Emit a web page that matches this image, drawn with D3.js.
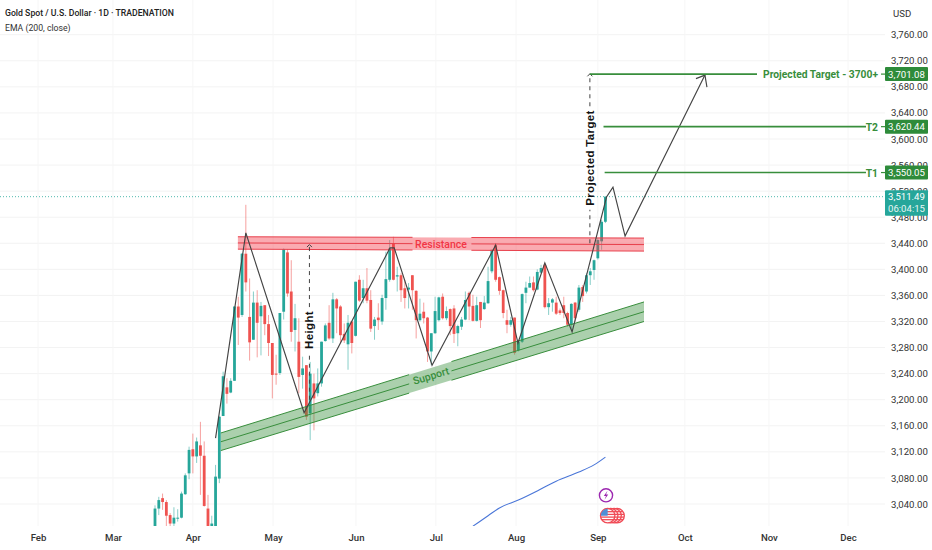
<!DOCTYPE html>
<html>
<head>
<meta charset="utf-8">
<script src="https://cdn.jsdelivr.net/npm/d3@7"></script>
<style>
  html, body { margin: 0; padding: 0; background: #fff; }
  svg { display: block; font-family: Roboto, sans-serif; }
</style>
</head>
<body>
<script>
// Daily candles
const opens = [3005,3033,3049,3043,3023,3010,3018,3019,3055,3087,3124,3113,3130,3114,3033,3005,3005,3079,3175,3219,
  3211,3229,3343,3330,3424,3327,3292,3349,3328,3345,3316,3287,3240,3241,3335,3426,3366,3307,3289,3238,
  3253,3179,3225,3210,3225,3290,3318,3294,3354,3343,3301,3285,3320,3298,3384,3356,3371,3353,3313,3326,
  3320,3356,3384,3440,3389,3391,3371,3369,3391,3367,3322,3335,3326,3274,3302,3322,3358,3325,3339,3340,
  3302,3312,3323,3364,3344,3321,3350,3339,3348,3397,3437,3388,3368,3322,3315,3326,3276,3289,3364,3372,
  3380,3369,3395,3407,3342,3349,3349,3337,3345,3333,3315,3349,3338,3373,3366,3391,3399,3417,3443,3473];
const highs = [3038,3051,3056,3046,3026,3035,3032,3059,3087,3128,3148,3142,3166,3136,3054,3022,3100,3174,3243,3233,
  3233,3343,3358,3425,3499,3386,3366,3368,3350,3345,3330,3287,3269,3333,3432,3431,3414,3347,3325,3266,
  3253,3258,3240,3248,3289,3317,3345,3364,3356,3345,3317,3330,3320,3381,3391,3384,3402,3368,3327,3348,
  3361,3427,3445,3450,3404,3394,3384,3379,3391,3368,3355,3349,3327,3302,3358,3358,3363,3343,3340,3345,
  3315,3327,3366,3366,3361,3358,3350,3359,3404,3430,3440,3389,3369,3338,3327,3326,3292,3363,3381,3389,
  3389,3400,3407,3409,3356,3356,3358,3340,3358,3335,3348,3350,3376,3376,3394,3402,3415,3448,3476,3512];
const lows = [3005,3023,3031,3005,3005,3005,3013,3018,3054,3078,3087,3103,3054,3036,3005,3005,3005,3072,3175,3194,
  3210,3229,3284,3327,3366,3260,3292,3265,3268,3299,3267,3202,3223,3238,3323,3358,3289,3274,3210,3217,
  3169,3138,3153,3205,3220,3289,3292,3287,3302,3287,3287,3246,3271,3297,3350,3348,3348,3304,3292,3307,
  3315,3338,3381,3383,3366,3350,3340,3340,3338,3294,3320,3317,3258,3253,3301,3320,3323,3322,3299,3287,
  3282,3307,3322,3322,3320,3320,3310,3338,3347,3394,3381,3361,3325,3302,3312,3269,3274,3287,3348,3372,
  3366,3368,3394,3340,3330,3335,3330,3330,3325,3312,3307,3320,3335,3350,3363,3376,3384,3415,3430,3471];
const closes = [3033,3046,3043,3022,3010,3019,3019,3056,3084,3123,3113,3136,3114,3037,3005,3010,3082,3174,3236,3209,
  3229,3343,3326,3424,3380,3288,3349,3318,3344,3316,3287,3238,3239,3333,3431,3363,3304,3325,3235,3248,
  3174,3240,3202,3225,3289,3314,3294,3354,3340,3299,3291,3318,3287,3381,3352,3371,3352,3309,3323,3322,
  3356,3385,3432,3384,3391,3368,3356,3372,3368,3322,3332,3325,3274,3302,3336,3357,3325,3336,3313,3301,
  3313,3323,3353,3343,3321,3345,3322,3349,3382,3430,3384,3367,3333,3315,3322,3272,3289,3362,3372,3379,
  3368,3396,3402,3342,3348,3354,3332,3333,3333,3315,3347,3325,3372,3359,3391,3397,3414,3445,3473,3511.49];

// EMA (200, close)
const emaIdx = [84,88,91,96,101,106,112,116,119];
const emaVals = [3006,3022,3034,3046,3060,3075,3089,3100,3112];

const priceTicks = d3.range(3040, 3761, 40);
const monthNames = ["Feb","Mar","Apr","May","Jun","Jul","Aug","Sep","Oct","Nov","Dec"];
const monthIdx = [-30.9,-11.1,10,31.2,53.1,74.2,95.4,117,140,162.2,183.1];

// drawings, as [candle index, price]
const zigzag = [[16,3141],[24,3456],[39.4,3180],[62.1,3433],[63.2,3433],[73.2,3253],[90,3437],[95.9,3287],
  [103,3410],[110.2,3304],[119.3,3511],[121,3526],[124.2,3451],[145.3,3698]];
const resistanceBand = { from: 21.9, to: 129.2, top: [3450,3448], bottom: [3431,3428] };
const supportBand = { from: 17.4, to: 129.2, top: [3149,3350], bottom: [3122,3320] };
const targets = [
  { label: "3,701.08", price: 3701.08, from: 114.9, text: "Projected Target - 3700+" },
  { label: "3,620.44", price: 3620.44, from: 118.5, text: "T2" },
  { label: "3,550.05", price: 3550.05, from: 118.8, text: "T1" }
];
const eventIdx = [122.1,121.3,120.4,119.6];

const width = 932, height = 550;
const paneBottom = 526, axisLeft = 885, targetShift = 1;
const up = "#26a69a", down = "#ef5350", lineGreen = "#388e3c", labelGreen = "#388e3c";

const x = d3.scaleLinear().domain([0, 119]).range([155, 605.4]);
const y = d3.scaleLinear().domain([3040, 3760]).range([504, 34.7]);

const svg = d3.select("body").append("svg").attr("width", width).attr("height", height);
svg.append("rect").attr("width", width).attr("height", height).attr("fill", "#fff");

svg.append("defs").append("clipPath").attr("id", "pane")
  .append("rect").attr("width", axisLeft).attr("height", paneBottom);

// grid
svg.append("g").selectAll("line").data(priceTicks).enter().append("line")
  .attr("x1", 0).attr("x2", axisLeft)
  .attr("y1", d => y(d)).attr("y2", d => y(d))
  .attr("stroke", "#f3f3f3");
svg.append("g").selectAll("line").data(monthIdx).enter().append("line")
  .attr("x1", d => x(d)).attr("x2", d => x(d))
  .attr("y1", 0).attr("y2", paneBottom)
  .attr("stroke", "#f6f6f6");

const pane = svg.append("g").attr("clip-path", "url(#pane)");

// candles
const candles = pane.append("g").selectAll("g").data(opens).enter().append("g");
candles.append("line")
  .attr("x1", (d,i) => x(i)).attr("x2", (d,i) => x(i))
  .attr("y1", (d,i) => y(highs[i])).attr("y2", (d,i) => y(lows[i]))
  .attr("stroke", (d,i) => closes[i] >= d ? up : down)
  .attr("stroke-opacity", 0.55);
candles.append("rect")
  .attr("x", (d,i) => x(i) - 1.4).attr("width", 2.8)
  .attr("y", (d,i) => y(Math.max(d, closes[i])))
  .attr("height", (d,i) => Math.max(1, Math.abs(y(d) - y(closes[i]))))
  .attr("fill", (d,i) => closes[i] >= d ? up : down);

// last price line
pane.append("line")
  .attr("x1", 0).attr("x2", axisLeft)
  .attr("y1", y(3511.49)).attr("y2", y(3511.49))
  .attr("stroke", up).attr("stroke-dasharray", "1 2").attr("stroke-opacity", 0.8);

// ema
const emaLine = d3.line().x((d,i) => x(d)).y((d,i) => y(emaVals[i])).curve(d3.curveMonotoneX);
pane.append("path").attr("d", emaLine(emaIdx))
  .attr("fill", "none").attr("stroke", "#4a76d8").attr("stroke-width", 1.1);

// bands with a gap in their lines for the label
function drawBand(band, fill, stroke, gap) {
  const g = pane.append("g");
  const at = (arr, k) => arr[0] + (arr[1] - arr[0]) * k;
  const mid = k => (at(band.top, k) + at(band.bottom, k)) / 2;
  g.append("path")
    .attr("d", d3.line()([[x(band.from), y(band.top[0])], [x(band.to), y(band.top[1])],
      [x(band.to), y(band.bottom[1])], [x(band.from), y(band.bottom[0])]]) + "Z")
    .attr("fill", fill);
  const pieces = [[0, gap[0]], [gap[1], 1]];
  [k => at(band.top, k), mid, k => at(band.bottom, k)].forEach(fn => {
    pieces.forEach(p => {
      g.append("line")
        .attr("x1", x(band.from + (band.to - band.from) * p[0])).attr("y1", y(fn(p[0])))
        .attr("x2", x(band.from + (band.to - band.from) * p[1])).attr("y2", y(fn(p[1])))
        .attr("stroke", stroke).attr("stroke-width", 1);
    });
  });
}
drawBand(resistanceBand, "rgba(242,54,69,0.42)", "#e8404c", [0.43, 0.575]);
drawBand(supportBand, "rgba(56,142,60,0.42)", "#388e3c", [0.445, 0.545]);

svg.append("text").attr("x", 441).attr("y", 248).attr("text-anchor", "middle")
  .attr("fill", "#f23645").attr("font-size", 10.5).attr("font-weight", 500).text("Resistance");
svg.append("text").attr("transform", "translate(431,376) rotate(-17)").attr("dy", 3.5)
  .attr("text-anchor", "middle").attr("fill", "#388e3c")
  .attr("font-size", 10.5).attr("font-weight", 500).text("Support");

// zigzag projection
const zigPath = d3.line().x(d => x(d[0])).y(d => y(d[1]));
pane.append("path").attr("d", zigPath(zigzag))
  .attr("fill", "none").attr("stroke", "#444").attr("stroke-width", 1.15);
const tip = zigzag[zigzag.length - 1];
pane.append("path")
  .attr("d", d3.line()([[x(tip[0]) - 9, y(tip[1]) + 3.5], [x(tip[0]), y(tip[1])], [x(tip[0]) + 2, y(tip[1]) + 12]]))
  .attr("fill", "none").attr("stroke", "#444").attr("stroke-width", 1.15);

// dashed measure arrows, the line breaks around the label
function measure(idx, p1, p2, label, cy) {
  const px = x(idx);
  const t = svg.append("text").attr("transform", `translate(${px},${cy}) rotate(-90)`)
    .attr("text-anchor", "middle").attr("dy", 4)
    .attr("font-family", "'Liberation Sans', Arial, sans-serif")
    .attr("font-size", 11.5).attr("font-weight", 700).attr("fill", "#111").attr("letter-spacing", 0.35).text(label);
  const half = t.node().getComputedTextLength() / 2 + 4;
  [[y(p1), cy + half], [cy - half, y(p2)]].forEach(s => {
    pane.append("line").attr("x1", px).attr("x2", px).attr("y1", s[0]).attr("y2", s[1])
      .attr("stroke", "#444").attr("stroke-dasharray", "4 4").attr("stroke-width", 1);
  });
  pane.append("path").attr("d", d3.line()([[px - 2.5, y(p2) + 2.5], [px, y(p2)], [px + 2.5, y(p2) + 2.5]]))
    .attr("fill", "none").attr("stroke", "#444");
}
measure(40.8, 3200, 3438, "Height", 330);
measure(114.9, 3440, 3700, "Projected Target", 158);

// target lines
pane.selectAll(".target").data(targets).enter().append("line").attr("class", "target")
  .attr("x1", d => x(d.from)).attr("x2", (d,i) => i === 0 ? 757 : 866)
  .attr("y1", d => y(d.price) + targetShift).attr("y2", d => y(d.price) + targetShift)
  .attr("stroke", lineGreen).attr("stroke-width", 1.6);
pane.selectAll(".targetEnd").data(targets).enter().append("line").attr("class", "targetEnd")
  .attr("x1", 881).attr("x2", axisLeft)
  .attr("y1", d => y(d.price) + targetShift).attr("y2", d => y(d.price) + targetShift)
  .attr("stroke", lineGreen).attr("stroke-width", 1.2);
svg.selectAll(".targetText").data(targets).enter().append("text").attr("class", "targetText")
  .attr("x", 878).attr("y", d => y(d.price) + targetShift).attr("dy", 4)
  .attr("text-anchor", "end").attr("fill", labelGreen)
  .attr("font-size", 10.3).attr("font-weight", 700).text(d => d.text);

// event icons
const icons = svg.append("g");
icons.append("circle").attr("cx", 606).attr("cy", 495.3).attr("r", 6.6)
  .attr("fill", "#fff").attr("stroke", "#9c27b0").attr("stroke-width", 1.4);
icons.append("path").attr("transform", "translate(606,495.3)")
  .attr("d", "M1.5,-4.5 L-2.2,0.6 L0,0.6 L-1.5,4.5 L2.2,-0.8 L0,-0.8 Z").attr("fill", "#9c27b0");
eventIdx.forEach((e, i) => {
  const cx = x(e), cy = 515.7;
  const g = icons.append("g");
  g.append("circle").attr("cx", cx).attr("cy", cy).attr("r", 7.2)
    .attr("fill", "#fff").attr("stroke", "#f04a55").attr("stroke-width", 1.3);
  [-4, -1.3, 1.4, 4].forEach(o => {
    g.append("line").attr("x1", cx - Math.sqrt(49 - o * o)).attr("x2", cx + Math.sqrt(49 - o * o))
      .attr("y1", cy + o).attr("y2", cy + o).attr("stroke", "#f04a55").attr("stroke-width", 1.3);
  });
  if (i === eventIdx.length - 1) {
    g.append("path").attr("d", `M${cx - 7},${cy} A7,7 0 0 1 ${cx},${cy - 7} L${cx},${cy} Z`).attr("fill", "#4f8fd6");
  }
});

// price axis
const yAxis = svg.append("g").attr("transform", `translate(${axisLeft},0)`)
  .call(d3.axisRight(y).tickValues(priceTicks).tickFormat(d3.format(",.2f")).tickSize(0).tickPadding(6));
yAxis.select(".domain").remove();
yAxis.selectAll("text").attr("fill", "#333").attr("font-size", 9.6).attr("font-family", "Roboto, sans-serif");

svg.append("text").attr("x", 893).attr("y", 17).attr("fill", "#333").attr("font-size", 9.6).text("USD");

// price labels
svg.selectAll(".priceBox").data(targets).enter().append("rect").attr("class", "priceBox")
  .attr("x", axisLeft).attr("width", 43).attr("y", d => y(d.price) + targetShift - 7).attr("height", 14)
  .attr("rx", 1).attr("fill", "#2e8b3a");
svg.selectAll(".priceLabel").data(targets).enter().append("text").attr("class", "priceLabel")
  .attr("x", 906.5).attr("y", d => y(d.price) + targetShift).attr("dy", 3.5).attr("text-anchor", "middle")
  .attr("fill", "#fff").attr("font-size", 9.6).text(d => d.label);
svg.append("rect").attr("x", axisLeft).attr("width", 43).attr("y", y(3511.49) - 6.5).attr("height", 25.5)
  .attr("rx", 1).attr("fill", up);
svg.append("text").attr("x", 906.5).attr("y", y(3511.49) + 3.5).attr("text-anchor", "middle")
  .attr("fill", "#fff").attr("font-size", 9.6).text("3,511.49");
svg.append("text").attr("x", 906.5).attr("y", y(3511.49) + 15).attr("text-anchor", "middle")
  .attr("fill", "#e6f6f4").attr("font-size", 9.6).text("06:04:15");

// month axis
const xAxis = svg.append("g").attr("transform", `translate(0,${paneBottom})`)
  .call(d3.axisBottom(x).tickValues(monthIdx).tickFormat((d,i) => monthNames[i]).tickSize(0).tickPadding(8));
xAxis.select(".domain").remove();
xAxis.selectAll("text").attr("fill", "#333").attr("font-size", 9.6).attr("font-weight", 500).attr("font-family", "Roboto, sans-serif");

// header
svg.append("text").attr("x", 5).attr("y", 16).attr("fill", "#222").attr("font-size", 8.7).attr("font-weight", 500)
  .text("Gold Spot / U.S. Dollar · 1D · TRADENATION");
svg.append("text").attr("x", 5).attr("y", 31).attr("fill", "#333").attr("font-size", 8.7)
  .text("EMA (200, close)");
</script>
</body>
</html>
